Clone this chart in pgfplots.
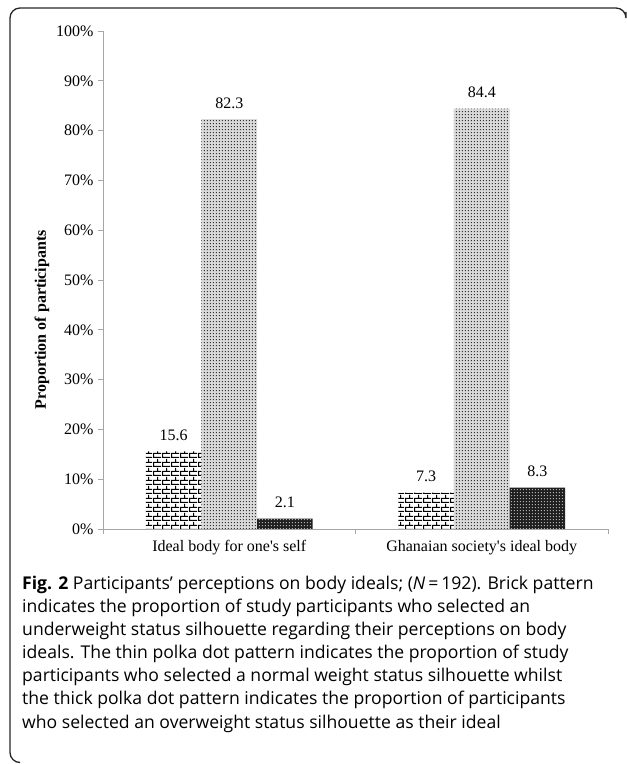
\documentclass[border=0pt]{standalone}
\usepackage{pgfplots}
\pgfplotsset{compat=1.18}
\usepackage{fontspec}
\setmainfont{Liberation Serif}
\newfontfamily\capfont{Open Sans}
\usetikzlibrary{patterns}

\pgfdeclarepatternformonly{mybricks}{\pgfpointorigin}{\pgfpoint{9bp}{9bp}}{\pgfpoint{9bp}{9bp}}{%
  \pgfsetlinewidth{1.2bp}%
  \pgfpathmoveto{\pgfpoint{0bp}{0.6bp}}\pgfpathlineto{\pgfpoint{9bp}{0.6bp}}%
  \pgfpathmoveto{\pgfpoint{0bp}{5.1bp}}\pgfpathlineto{\pgfpoint{9bp}{5.1bp}}%
  \pgfpathmoveto{\pgfpoint{0.6bp}{0.6bp}}\pgfpathlineto{\pgfpoint{0.6bp}{5.1bp}}%
  \pgfpathmoveto{\pgfpoint{5.1bp}{5.1bp}}\pgfpathlineto{\pgfpoint{5.1bp}{9bp}}%
  \pgfpathmoveto{\pgfpoint{5.1bp}{0bp}}\pgfpathlineto{\pgfpoint{5.1bp}{0.6bp}}%
  \pgfusepath{stroke}}
\pgfdeclarepatternformonly{mydots}{\pgfpointorigin}{\pgfpoint{3.4bp}{3.4bp}}{\pgfpoint{3.4bp}{3.4bp}}{%
  \pgfpathrectangle{\pgfpoint{1bp}{1bp}}{\pgfpoint{1.2bp}{1.2bp}}%
  \pgfusepath{fill}}

\begin{document}
\begin{tikzpicture}
\useasboundingbox (0,0) rectangle (627bp,764bp);
% frame
\draw[line width=1.3bp, color=black!85, rounded corners=10bp]
  (626bp,752bp) -- (626bp,756bp) -- (10bp,756bp) -- (10bp,1.5bp) -- (20bp,1.5bp);

\begin{axis}[
  at={(103bp,235bp)}, anchor=south west,
  scale only axis, width=505bp, height=498bp,
  xmin=-0.5, xmax=1.5, ymin=0, ymax=100,
  separate axis lines,
  axis x line*=bottom, axis y line*=left,
  axis line style={-, draw=black!35, line width=0.8bp},
  every tick/.style={draw=black!35, line width=0.8bp},
  tick align=outside, major tick length=5bp,
  xtick={-0.5,0.5,1.5}, xticklabels={},
  extra x ticks={0,1},
  extra x tick labels={Ideal body for one\textquotesingle s self, Ghanaian society\textquotesingle s ideal body},
  extra x tick style={major tick length=0pt, tick style={draw=none}},
  ytick={0,10,...,100},
  yticklabels={0\%,10\%,20\%,30\%,40\%,50\%,60\%,70\%,80\%,90\%,100\%},
  ticklabel style={font=\fontsize{16bp}{19bp}\selectfont, text=black},
  x tick label style={yshift=-8bp},
  y tick label style={xshift=-1bp},
  ylabel={\bfseries Proportion of participants},
  ylabel style={font=\fontsize{16bp}{19bp}\selectfont, at={(axis description cs:-0.121,0.42)}, anchor=center, rotate=0},
  ybar, bar width=0.22,
  nodes near coords,
  point meta=explicit symbolic,
  every node near coord/.append style={font=\fontsize{16bp}{19bp}\selectfont, text=black, yshift=7bp},
  clip=false,
]
\addplot[draw=none, bar shift=-0.22, pattern=mybricks, pattern color=black]
  coordinates {(0,15.6) [15.6] (1,7.3) [7.3]};
\addplot[draw=none, bar shift=0, fill=black!15, postaction={pattern=mydots, pattern color=black!80}]
  coordinates {(0,82.3) [82.3] (1,84.4) [84.4]};
\addplot[draw=none, bar shift=0.22, fill=black!88, postaction={pattern=mydots, pattern color=white!70!black}]
  coordinates {(0,2.1) [2.1] (1,8.3) [8.3]};
\end{axis}

% caption
\begin{scope}[every node/.style={anchor=base west, inner sep=0pt, text=black, font=\capfont\fontsize{17.6bp}{23bp}\selectfont}]
\node at (22bp,174bp) {\textbf{Fig. 2} Participants’ perceptions on body ideals; (\textit{N}\,=\,192). Brick pattern};
\node at (22bp,151bp) {indicates the proportion of study participants who selected an};
\node at (22bp,128bp) {underweight status silhouette regarding their perceptions on body};
\node at (22bp,105bp) {ideals. The thin polka dot pattern indicates the proportion of study};
\node at (22bp,82bp) {participants who selected a normal weight status silhouette whilst};
\node at (22bp,59bp) {the thick polka dot pattern indicates the proportion of participants};
\node at (22bp,36bp) {who selected an overweight status silhouette as their ideal};
\end{scope}
\end{tikzpicture}
\end{document}
